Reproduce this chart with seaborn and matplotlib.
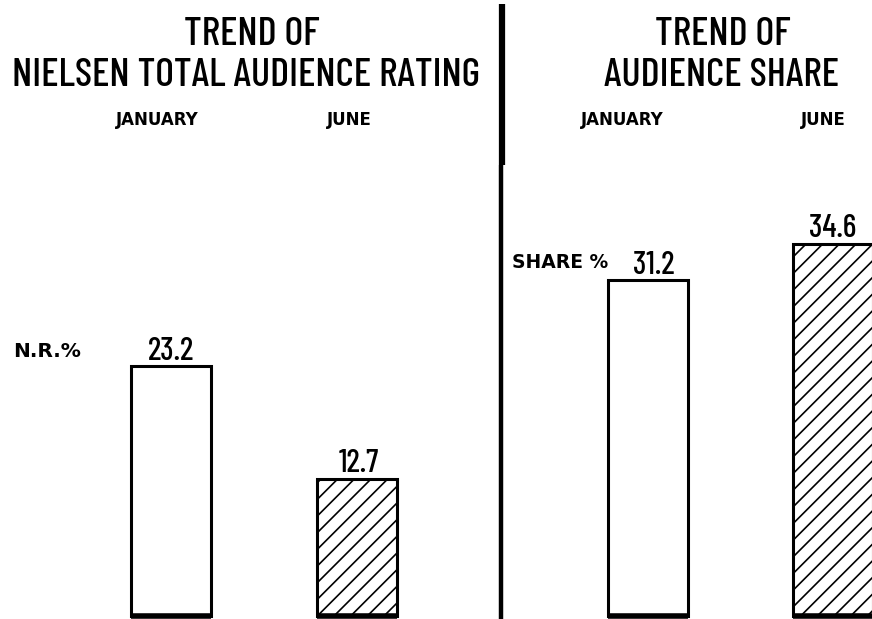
import matplotlib
matplotlib.use("Agg")
import matplotlib.pyplot as plt
import seaborn as sns
from matplotlib.lines import Line2D

# ---- data ----
months = ["JANUARY", "JUNE"]
rating = [23.2, 12.7]
share = [31.2, 34.6]
left_title = ["TREND OF", "NIELSEN TOTAL AUDIENCE RATING"]
right_title = ["TREND OF", "AUDIENCE SHARE"]
left_unit = "N.R.%"
right_unit = "SHARE %"

sns.set_theme(style="white")
plt.rcParams["font.family"] = ["Barlow Condensed", "DejaVu Sans"]
plt.rcParams["hatch.linewidth"] = 1.2

W, H = 872, 619
fig = plt.figure(figsize=(W / 100, H / 100), dpi=100)
fig.patch.set_facecolor("white")

ax1 = fig.add_axes([0, 0, 500 / W, 1])
ax2 = fig.add_axes([500 / W, 0, 372 / W, 1])

PX = 10.75  # pixels per unit
ylim = (-3.5 / PX, (H - 3.5) / PX)

narrow = ["Barlow Condensed", "DejaVu Sans"]
wide = ["DejaVu Sans"]


def draw(ax, vals, xlim, title, title_x, unit, unit_xy, unit_size,
         head_dx, lab_dx):
    sns.barplot(x=months, y=vals, ax=ax, width=0.435, color="white",
                edgecolor="black", linewidth=2.2, saturation=1)
    for i, p in enumerate(ax.patches):
        p.set_facecolor("white")
        if i == 1:
            p.set_hatch("//")
        ax.plot([p.get_x(), p.get_x() + p.get_width()], [0, 0],
                color="black", lw=4.0, solid_capstyle="butt")
    ax.set_xlim(*xlim)
    ax.set_ylim(*ylim)
    ax.set_axis_off()
    for i, v in enumerate(vals):
        ax.text(i + lab_dx[i], v + 6.5 / PX, f"{v:.1f}", ha="center",
                va="baseline", fontsize=23, fontweight=500, family=narrow,
                color="black")
        ax.text(i + head_dx[i], 1 - 125 / H, months[i], ha="center",
                va="baseline", fontsize=12, fontweight="bold", family=wide,
                transform=ax.get_xaxis_transform(), color="black")
    for line, base, tx in zip(title, [45, 86], title_x):
        ax.text(tx, 1 - base / H, line, ha="center", va="baseline",
                fontsize=29, fontweight=500, family=narrow,
                transform=ax.transAxes, color="black")
    ax.text(unit_xy[0], unit_xy[1], unit, ha="left", va="baseline",
            fontsize=unit_size, fontweight="bold", family=wide,
            transform=ax.transAxes, color="black")


draw(ax1, rating, (-171 / 186, (500 - 171) / 186), left_title,
     (252 / 500, 246 / 500), left_unit, (13 / 500, 1 - 357 / H), 14.5,
     (-0.075, -0.04), (0.0, 0.01))
draw(ax2, share, (-148 / 185, (372 - 148) / 185), right_title,
     (223 / 372, 221 / 372), right_unit, (12 / 372, 1 - 268 / H), 13.5,
     (-0.14, -0.05), (0.03, 0.0))

# divider
fig.add_artist(Line2D([502 / W, 502 / W], [1 - 4 / H, 1 - 165 / H],
                      color="black", lw=4.5, solid_capstyle="butt"))
fig.add_artist(Line2D([501 / W, 501 / W], [1 - 165 / H, 0],
                      color="black", lw=3.2, solid_capstyle="butt"))

fig.savefig("out.png", dpi=100, facecolor="white")
